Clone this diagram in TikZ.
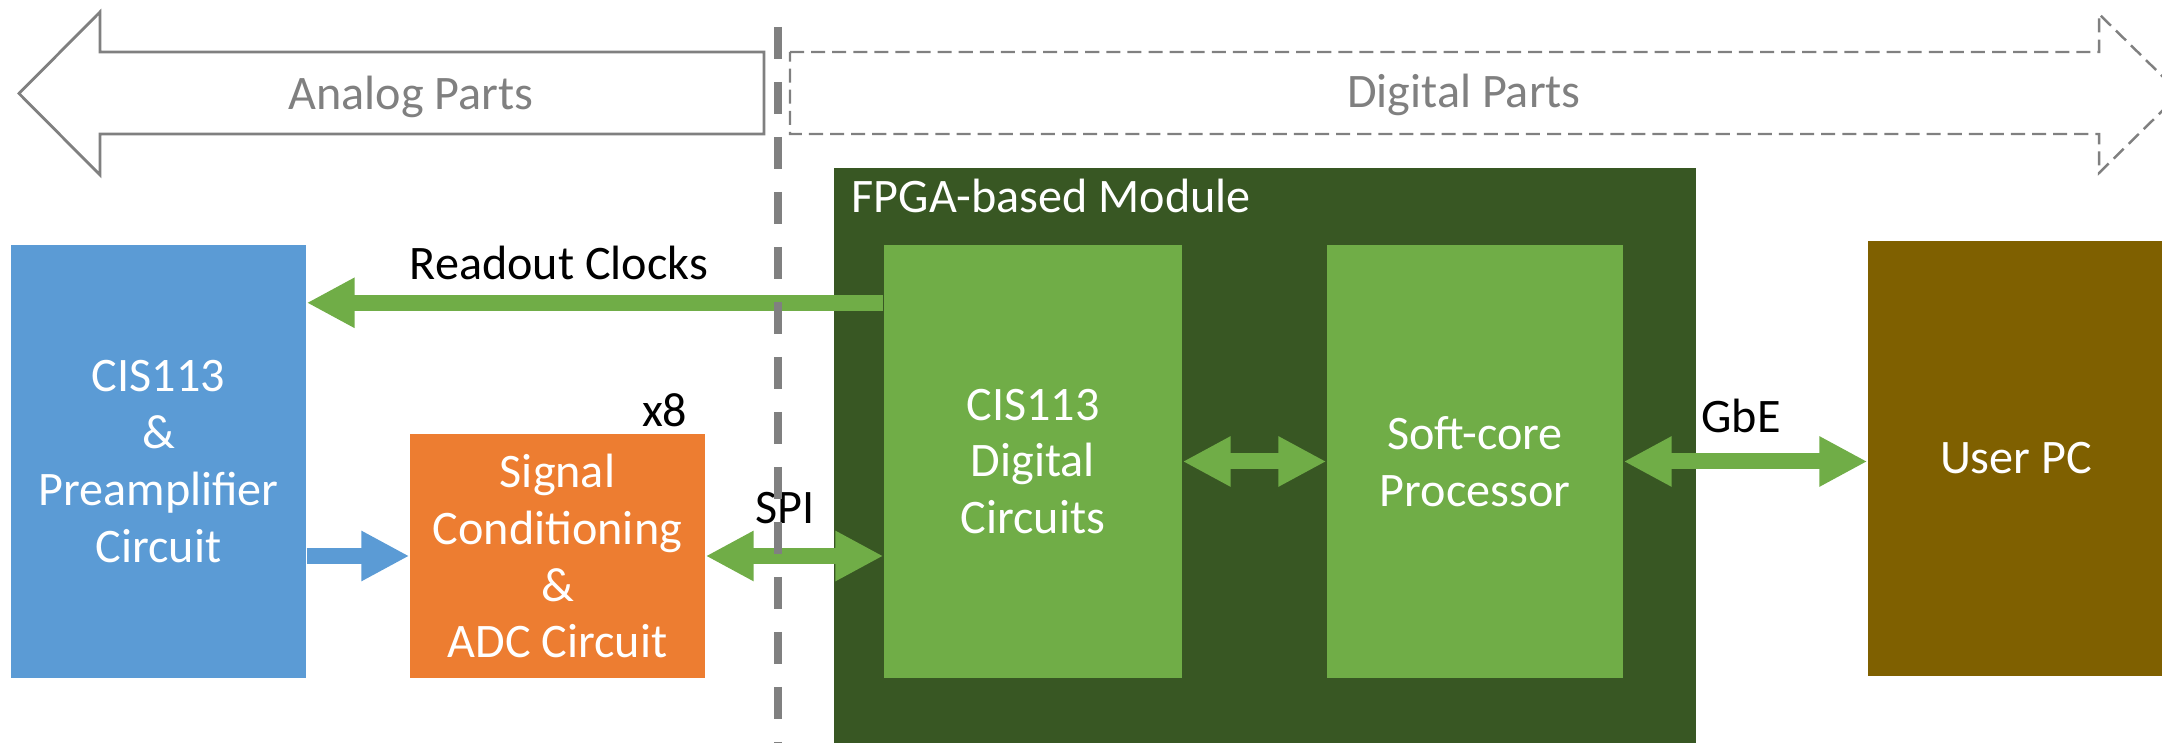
\documentclass[tikz,border=0pt]{standalone}
\usepackage{fontspec}
\setmainfont{Carlito}
\usetikzlibrary{arrows.meta}
\definecolor{cisblue}{RGB}{91,155,213}
\definecolor{adcorange}{RGB}{237,125,49}
\definecolor{fpgadark}{RGB}{56,87,35}
\definecolor{fpgalight}{RGB}{112,173,71}
\definecolor{pcbrown}{RGB}{127,96,0}
\definecolor{partgray}{RGB}{128,128,128}
\begin{document}
\begin{tikzpicture}[
        font=\fontsize{13.7}{16.2}\selectfont
    ]
    \tikzset{
        mybox/.style = {rectangle, inner sep=0pt, align=center, text=white},
        mylabel/.style = {inner sep=0pt, text=black},
        mypart/.style = {inner sep=0pt, text=partgray},
        myarrow/.style = {line width=1.6mm, -{Triangle[width=4.7mm,length=4.8mm]}},
        mydarrow/.style = {line width=1.6mm, {Triangle[width=4.7mm,length=4.8mm]}-{Triangle[width=4.7mm,length=4.8mm]}},
    }
    \useasboundingbox (0,0) rectangle (21.62,-7.43);
    % analog / digital parts
    \draw[partgray, line width=0.8pt] (7.64,-0.52) -- (1.00,-0.52) -- (1.00,-0.12)
        -- (0.19,-0.935) -- (1.00,-1.75) -- (1.00,-1.34) -- (7.64,-1.34) -- cycle;
    \draw[partgray, line width=0.7pt, dash pattern=on 4pt off 2pt] (7.90,-0.52) -- (20.99,-0.52)
        -- (20.99,-0.14) -- (21.80,-0.935) -- (20.99,-1.73) -- (20.99,-1.34) -- (7.90,-1.34) -- cycle;
    \node[mypart, anchor=base] at (4.11,-1.10) (analog) {Analog Parts};
    \node[mypart, anchor=base] at (14.64,-1.08) (digital) {Digital Parts};
    %
    \node[mybox, fill=fpgadark, minimum width=8.62cm, minimum height=5.75cm] at (12.65,-4.555) (fpga) {};
    \node[inner sep=0pt, text=white, anchor=base west] at (8.51,-2.13) (fpgalabel) {FPGA-based Module};
    %
    \node[mybox, fill=cisblue, minimum width=2.95cm, minimum height=4.33cm] at (1.585,-4.615) (cis) {CIS113\\\&\\Preamplifier\\Circuit};
    \node[mybox, fill=adcorange, minimum width=2.95cm, minimum height=2.44cm] at (5.575,-5.56) (adc) {Signal\\Conditioning\\\&\\ADC Circuit};
    \node[mybox, fill=fpgalight, minimum width=2.98cm, minimum height=4.33cm] at (10.33,-4.615) (dig) {CIS113\\Digital\\Circuits};
    \node[mybox, fill=fpgalight, minimum width=2.96cm, minimum height=4.33cm] at (14.75,-4.615) (cpu) {Soft-core\\Processor};
    \node[mybox, fill=pcbrown, minimum width=2.96cm, minimum height=4.35cm] at (20.16,-4.585) (pc) {User PC};
    %
    \draw[myarrow, fpgalight] ([yshift=-5.85mm]dig.north west) -- ([yshift=-5.85mm]cis.north east);
    \draw[myarrow, cisblue] (cis.east |- adc.west) -- (adc.west);
    \draw[mydarrow, fpgalight] (adc.east) -- (dig.west |- adc.east);
    \draw[mydarrow, fpgalight] (dig.east) -- (cpu.west);
    \draw[mydarrow, fpgalight] (cpu.east) -- (cpu.east -| pc.west);
    %
    \node[mylabel, anchor=base] at (5.59,-2.80) (clk) {Readout Clocks};
    \node[mylabel, anchor=base east] at (6.88,-4.27) (x8) {x8};
    \node[mylabel, anchor=base] at (7.85,-5.24) (spi) {SPI};
    \node[mylabel, anchor=base] at (17.41,-4.33) (gbe) {GbE};
    %
    \draw[partgray, line width=2pt, dash pattern=on 0.32cm off 0.23cm] (7.78,-0.27) -- (7.78,-7.43);
\end{tikzpicture}
\end{document}
